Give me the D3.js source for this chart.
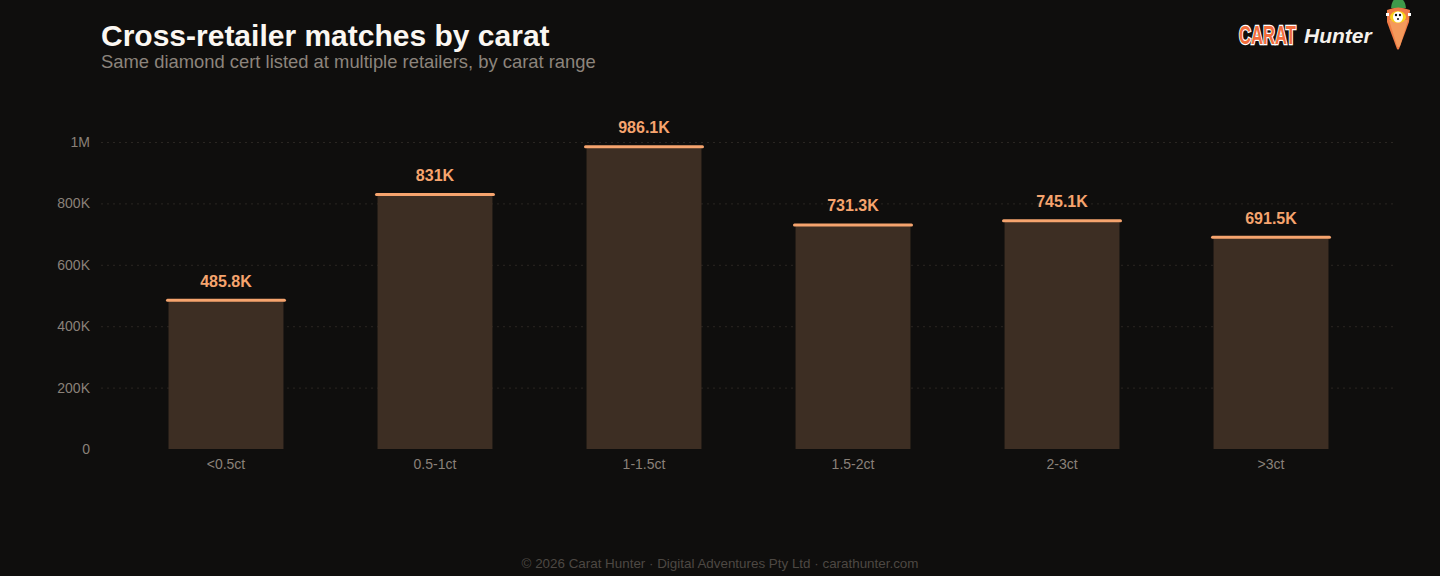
<!DOCTYPE html>
<html><head><meta charset="utf-8">
<script src="https://cdn.jsdelivr.net/npm/d3@7"></script>
<style>
html,body{margin:0;padding:0;background:#0f0e0d;}
svg{display:block;}
</style></head><body>
<script>
const categories = ["<0.5ct","0.5-1ct","1-1.5ct","1.5-2ct","2-3ct",">3ct"];
const matches = [485800, 831000, 986100, 731300, 745100, 691500];
const valueLabels = ["485.8K","831K","986.1K","731.3K","745.1K","691.5K"];
const yTicks = [0, 200000, 400000, 600000, 800000, 1000000];
const yTickLabels = ["0","200K","400K","600K","800K","1M"];

(function(){
const W = 1440, H = 576;
const svg = d3.select("body").append("svg").attr("width", W).attr("height", H);
svg.append("rect").attr("width", W).attr("height", H).attr("fill", "#0f0e0d");

const mLeft = 101, mRight = 1396, mTop = 142, mBottom = 449;
const x = d3.scaleBand().domain(categories).range([mLeft, mRight]).paddingInner(0.45).paddingOuter(0.323);
const y = d3.scaleLinear().domain([0, 1000000]).range([mBottom, mTop]);

// grid
svg.append("g").selectAll("line").data(yTicks.filter(d => d > 0)).join("line")
  .attr("x1", mLeft).attr("x2", mRight)
  .attr("y1", d => y(d) + 0.5).attr("y2", d => y(d) + 0.5)
  .attr("stroke", "#2a2622").attr("stroke-width", 1).attr("stroke-dasharray", "2,4");

// y axis
const yAxis = d3.axisLeft(y).tickValues(yTicks).tickFormat((d, i) => yTickLabels[i]).tickSize(0).tickPadding(0);
const gy = svg.append("g").attr("transform", `translate(90,0)`).call(yAxis);
gy.select(".domain").remove();
gy.selectAll("text").attr("fill", "#8a8179").attr("font-family", "Liberation Sans, Arial, sans-serif").attr("font-size", 14);

// x axis
const xAxis = d3.axisBottom(x).tickSize(0).tickPadding(0);
const gx = svg.append("g").attr("transform", `translate(0,${mBottom + 10})`).call(xAxis);
gx.select(".domain").remove();
gx.selectAll("text").attr("fill", "#8a8179").attr("font-family", "Liberation Sans, Arial, sans-serif").attr("font-size", 14).attr("dy", "0.71em");

// bars
const bars = svg.append("g");
bars.selectAll("rect").data(matches).join("rect")
  .attr("x", (d, i) => x(categories[i]))
  .attr("width", x.bandwidth())
  .attr("y", d => y(d))
  .attr("height", d => y(0) - y(d))
  .attr("fill", "#3d2e23");
bars.selectAll("line").data(matches).join("line")
  .attr("x1", (d, i) => x(categories[i]) - 1)
  .attr("x2", (d, i) => x(categories[i]) + x.bandwidth() + 1)
  .attr("y1", d => y(d) + 0.5).attr("y2", d => y(d) + 0.5)
  .attr("stroke", "#f6a46e").attr("stroke-width", 3).attr("stroke-linecap", "round");
bars.selectAll("text").data(matches).join("text")
  .attr("x", (d, i) => x(categories[i]) + x.bandwidth() / 2)
  .attr("y", d => y(d) - 13)
  .attr("text-anchor", "middle")
  .attr("fill", "#f6a46e").attr("font-weight", "bold")
  .attr("font-family", "Liberation Sans, Arial, sans-serif").attr("font-size", 16)
  .text((d, i) => valueLabels[i]);

// title
svg.append("text").attr("x", 101).attr("y", 46).attr("fill", "#fbf7f2")
  .attr("font-family", "Liberation Sans, Arial, sans-serif").attr("font-weight", "bold").attr("font-size", 30)
  .text("Cross-retailer matches by carat");
svg.append("text").attr("x", 101).attr("y", 68).attr("fill", "#8c847c")
  .attr("font-family", "Liberation Sans, Arial, sans-serif").attr("font-size", 18.4)
  .text("Same diamond cert listed at multiple retailers, by carat range");

// footer
svg.append("text").attr("x", 720).attr("y", 568).attr("text-anchor", "middle").attr("fill", "#4d4843")
  .attr("font-family", "Liberation Sans, Arial, sans-serif").attr("font-size", 13.4)
  .text("© 2026 Carat Hunter · Digital Adventures Pty Ltd · carathunter.com");

// logo
const logo = svg.append("g");
const carat = logo.append("text").attr("x", 0).attr("y", 0)
  .attr("font-family", "Liberation Sans Narrow, Arial Narrow, sans-serif").attr("font-weight", "bold").attr("font-size", 26)
  .attr("fill", "#f26d3d").attr("stroke", "#ffffff").attr("stroke-width", 2.5).attr("paint-order", "stroke")
  .text("CARAT");
const cw = carat.node().getComputedTextLength();
carat.attr("transform", `translate(1239,44) scale(${57 / cw},1)`);
logo.append("text").attr("x", 1304).attr("y", 43)
  .attr("font-family", "Liberation Sans, Arial, sans-serif").attr("font-weight", "bold").attr("font-style", "italic").attr("font-size", 21)
  .attr("fill", "#f5f1ec").text("Hunter");
// carrot
logo.append("path").attr("d", "M1391,8 Q1392,-2 1398,-2 Q1405,-2 1406,8 Z").attr("fill", "#3f9a4a");
logo.append("path").attr("d", "M1387,10 Q1398,5 1410,10 L1409,22 L1399,49 Q1398,50 1397,49 L1387,22 Z").attr("fill", "#f07a45");
logo.append("path").attr("d", "M1389,20 L1408,20 L1400,46 Q1398,48 1397,46 Z").attr("fill", "#f49a5c");
logo.append("ellipse").attr("cx", 1398).attr("cy", 17).attr("rx", 8).attr("ry", 6).attr("fill", "#f8d21a");
logo.append("ellipse").attr("cx", 1398).attr("cy", 17).attr("rx", 5).attr("ry", 5.5).attr("fill", "#ffffff");
logo.append("circle").attr("cx", 1396).attr("cy", 15).attr("r", 1.2).attr("fill", "#111");
logo.append("circle").attr("cx", 1400).attr("cy", 15).attr("r", 1.2).attr("fill", "#111");
logo.append("circle").attr("cx", 1398).attr("cy", 19).attr("r", 1).attr("fill", "#111");
logo.append("rect").attr("x", 1386).attr("y", 13).attr("width", 3).attr("height", 3).attr("fill", "#ffffff");
logo.append("rect").attr("x", 1408).attr("y", 13).attr("width", 3).attr("height", 3).attr("fill", "#ffffff");
})();
</script>
</body></html>
